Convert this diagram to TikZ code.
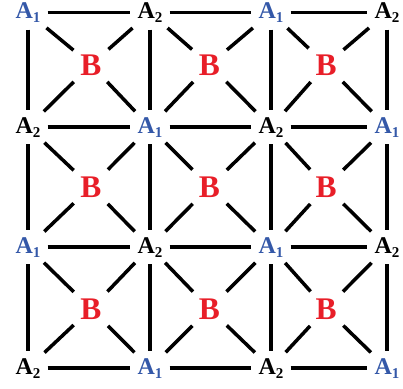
\documentclass[tikz,border=0pt]{standalone}
\usepackage{fontspec}
\setmainfont{Liberation Serif}
\definecolor{siteblue}{RGB}{52,88,168}
\definecolor{sitered}{RGB}{232,30,40}
\colorlet{site1}{siteblue}
\colorlet{site2}{black}
\newcommand\sitesub[1]{\raisebox{-4pt}{\fontsize{15}{15}\selectfont #1}}

\begin{document}
\begin{tikzpicture}[x=1pt, y=-1pt,
  asite/.style={font=\fontsize{24}{24}\selectfont\bfseries, inner sep=2pt, anchor=base},
  bsite/.style={font=\fontsize{31.5}{31.5}\selectfont\bfseries, text=sitered, inner sep=3pt, anchor=base},
  bond/.style={line width=3.5pt, black, shorten >=5pt, shorten <=5pt}
]
  \useasboundingbox (0,0) rectangle (403,388);

  % A sites on the square lattice (text baselines)
  \foreach \x [count=\i] in {28,150,271,387}
    \foreach \y [count=\j] in {18.5,133,253,374} {
      \pgfmathtruncatemacro\s{1+mod(\i+\j,2)}
      \node[asite, text=site\s] (a-\i-\j) at (\x,\y) {A\sitesub{\s}};
    }

  % B sites in the cells
  \foreach \x [count=\i] in {91,209.5,326}
    \foreach \y [count=\j] in {75,197,319}
      \node[bsite] (b-\i-\j) at (\x,\y) {B};

  % lattice bonds
  \foreach \i in {1,2,3}
    \foreach \j in {1,2,3,4} {
      \pgfmathtruncatemacro\ni{\i+1}
      \draw[bond] (a-\i-\j) -- (a-\ni-\j);
      \draw[bond] (a-\j-\i) -- (a-\j-\ni);
    }

  % B to the cell corners
  \foreach \i in {1,2,3}
    \foreach \j in {1,2,3} {
      \pgfmathtruncatemacro\ni{\i+1}
      \pgfmathtruncatemacro\nj{\j+1}
      \draw[bond] (b-\i-\j) -- (a-\i-\j);
      \draw[bond] (b-\i-\j) -- (a-\ni-\j);
      \draw[bond] (b-\i-\j) -- (a-\i-\nj);
      \draw[bond] (b-\i-\j) -- (a-\ni-\nj);
    }
\end{tikzpicture}
\end{document}
